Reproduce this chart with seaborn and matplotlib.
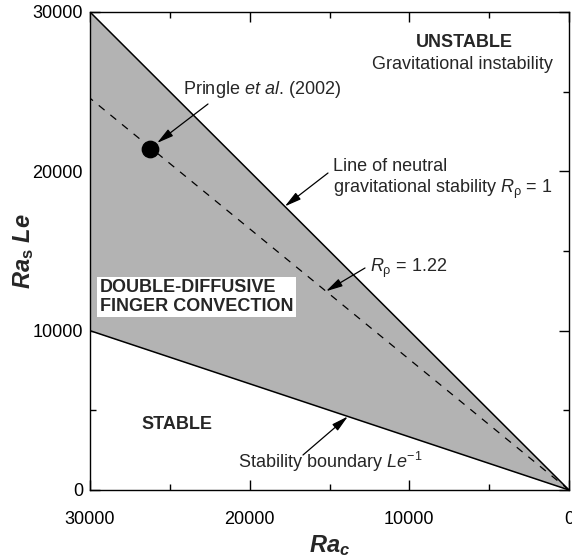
import numpy as np
import seaborn as sns
import matplotlib.pyplot as plt
from matplotlib.ticker import MultipleLocator

# values
rac = [30000, 0]                 # Ra_c at both ends of each line
neutral = [30000, 0]             # R_rho = 1
rrho_122 = [24590, 0]            # R_rho = 1.22
stability = [10000, 0]           # stability boundary Le^-1
pringle_rac = [26250]
pringle_ras = [21400]

sns.set_theme(style='ticks')
plt.rcParams.update({
    'font.family': ['Liberation Sans', 'DejaVu Sans'],
    'font.size': 13,
    'mathtext.fontset': 'custom',
    'mathtext.rm': 'Liberation Sans',
    'mathtext.it': 'Liberation Sans:italic',
    'mathtext.bf': 'Liberation Sans:bold',
    'mathtext.bfit': 'Liberation Sans:italic:bold',
    'axes.edgecolor': 'black',
    'axes.linewidth': 1.0,
})

fig = plt.figure(figsize=(5.72, 5.56), dpi=100)
ax = fig.add_axes([90 / 572, 66 / 556, 479 / 572, 478 / 556])

# shaded finger-convection wedge
ax.fill_between(rac, stability, neutral, color='#b3b3b3', lw=0, zorder=1)
sns.lineplot(x=rac, y=neutral, color='black', lw=1.1, ax=ax, zorder=3)
sns.lineplot(x=rac, y=stability, color='black', lw=1.1, ax=ax, zorder=3)
sns.lineplot(x=rac, y=rrho_122, color='black', lw=0.9, ax=ax, zorder=3,
             dashes=False, linestyle=(0, (6, 6)))
sns.scatterplot(x=pringle_rac, y=pringle_ras, color='black', s=140,
                edgecolor='black', ax=ax, zorder=4)

ax.set_xlim(30000, 0)
ax.set_ylim(0, 30000)
ax.xaxis.set_major_locator(MultipleLocator(10000))
ax.xaxis.set_minor_locator(MultipleLocator(5000))
ax.yaxis.set_major_locator(MultipleLocator(10000))
ax.yaxis.set_minor_locator(MultipleLocator(5000))
ax.tick_params(which='both', direction='in', top=True, right=True,
               color='black', width=1.0, labelsize=13, labelcolor='black')
ax.tick_params(which='major', length=7)
ax.tick_params(which='minor', length=4.5)
ax.tick_params(axis='x', pad=15)
ax.tick_params(axis='y', pad=5)
for s in ax.spines.values():
    s.set_visible(True)
    s.set_zorder(5)

ax.set_xlabel(r'$\mathbfit{Ra}_{\mathbfit{c}}$', fontsize=17, labelpad=4)
ax.set_ylabel(r'$\mathbfit{Ra}_{\mathbf{s}}\ \mathbfit{Le}$', fontsize=17)
ax.yaxis.set_label_coords(-0.113, 0.5)

arrow = dict(arrowstyle='-|>,head_length=1.0,head_width=0.25',
             mutation_scale=10, color='black', lw=0.9, shrinkA=0, shrinkB=0)

tr = ax.transAxes
ax.text(0.781, 0.937, 'UNSTABLE', transform=tr, ha='center', va='center',
        fontweight='bold')
ax.text(0.777, 0.891, 'Gravitational instability', transform=tr,
        ha='center', va='center')

ax.text(0.194, 0.837, r'Pringle $\mathit{et\ al}$. (2002)', transform=tr,
        ha='left', va='center')
ax.annotate('', xy=(25800, 21780), xytext=(22610, 24226), arrowprops=arrow)

ax.text(0.507, 0.649, 'Line of neutral\ngravitational stability $R_\\mathrm{\\rho}$ = 1',
        transform=tr, ha='left', va='center', linespacing=1.2)
ax.annotate('', xy=(17800, 17800), xytext=(15094, 19895), arrowprops=arrow)

ax.text(0.585, 0.464, r'$R_\mathrm{\rho}$ = 1.22', transform=tr,
        ha='left', va='center')
ax.annotate('', xy=(15219, 12475), xytext=(12777, 13933), arrowprops=arrow)

ax.text(0.021, 0.404, 'DOUBLE-DIFFUSIVE\nFINGER CONVECTION', transform=tr,
        ha='left', va='center', fontweight='bold', linespacing=1.1,
        bbox=dict(facecolor='white', edgecolor='none', pad=2))

ax.text(0.182, 0.138, 'STABLE', transform=tr, ha='center', va='center',
        fontweight='bold')
ax.text(0.309, 0.0586, r'Stability boundary $Le^{\mathrm{-1}}$', transform=tr,
        ha='left', va='center')
ax.annotate('', xy=(13850, 4617), xytext=(16660, 2197), arrowprops=arrow)

fig.savefig('out.png', dpi=100)
